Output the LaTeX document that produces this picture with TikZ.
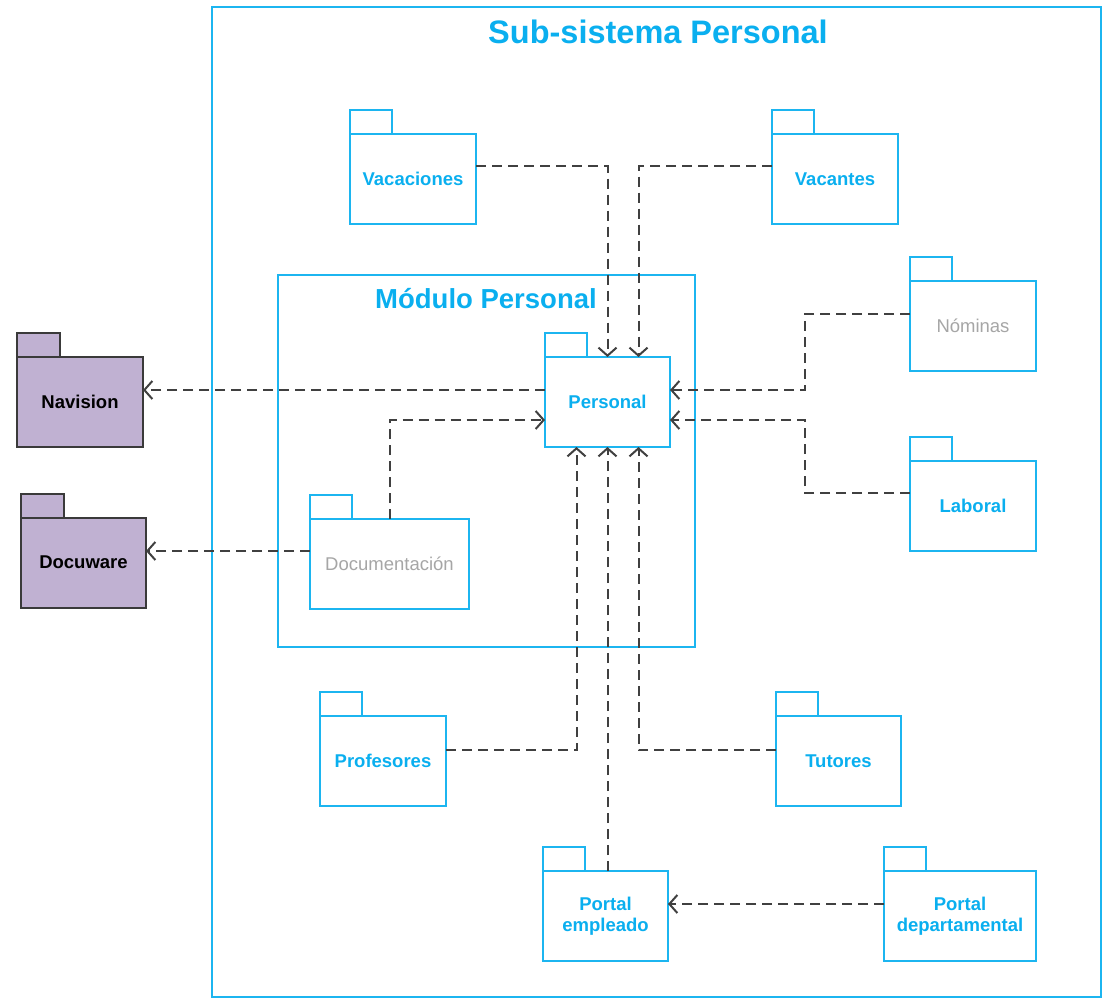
\documentclass[tikz,border=0pt]{standalone}
\usepackage{fontspec}
\setmainfont{Liberation Sans}
\usetikzlibrary{arrows.meta, positioning}

\definecolor{pkgblue}{HTML}{1CB5F0}
\definecolor{pkgtext}{HTML}{0AAFEF}
\definecolor{pkggray}{HTML}{A6A6A6}
\definecolor{extfill}{HTML}{C0B1D2}
\definecolor{extline}{HTML}{3A3A3A}
\definecolor{depline}{HTML}{404040}

\begin{document}
\begin{tikzpicture}[x=1pt, y=-1pt,
                    frame/.style={draw=pkgblue, line width=1.8pt, inner sep=0pt},
                    pkg/.style={draw=pkgblue,
                      line width=2pt,
                      fill=white,
                      outer sep=0pt,
                      inner sep=0pt,
                      minimum width=126pt,
                      minimum height=90pt,
                      align=center,
                      text=pkgtext,
                      font=\bfseries\fontsize{18.5}{21}\selectfont},
                    gray pkg/.style={pkg, text=pkggray, font=\fontsize{18.5}{21}\selectfont},
                    ext pkg/.style={pkg, draw=extline, fill=extfill, text=black},
                    dep/.style={draw=depline, line width=2pt,
                      dash pattern=on 10pt off 6pt,
                      -{Straight Barb[length=8pt, width=18pt]}}]

  \useasboundingbox (0,0) rectangle (1103,999);

  % frames
  \node[frame, minimum width=889pt, minimum height=990pt] (sys) at (656.5,502) {};
  \node[text=pkgtext, font=\bfseries\fontsize{32.5}{38}\selectfont] (systitle) at (658,32) {Sub-sistema Personal};
  \node[frame, minimum width=417pt, minimum height=372pt] (mod) at (486.5,461) {};
  \node[text=pkgtext, font=\bfseries\fontsize{27.5}{32}\selectfont] (modtitle) at (486,299) {Módulo Personal};

  % packages
  \node[pkg] (vac) at (413,179) {Vacaciones};
  \node[pkg] (vnt) at (835,179) {Vacantes};
  \node[gray pkg] (nom) at (973,326) {Nóminas};
  \node[pkg, minimum width=125pt] (per) at (607.5,402) {Personal};
  \node[pkg] (lab) at (973,506) {Laboral};
  \node[gray pkg, minimum width=159pt] (doc) at (389.5,564) {Documentación};
  \node[ext pkg] (nav) at (80,402) {Navision};
  \node[ext pkg, minimum width=125pt] (dcw) at (83.5,562.5) {Docuware};
  \node[pkg] (prof) at (383,761) {Profesores};
  \node[pkg, minimum width=125pt] (tut) at (838.5,761) {Tutores};
  \node[pkg, minimum width=125pt] (pem) at (605.5,916) {Portal\\empleado};
  \node[pkg, minimum width=152pt] (pdp) at (960,916) {Portal\\departamental};

  % tabs
  \foreach \n in {vac, vnt, nom, per, lab, doc, prof, tut, pem, pdp}
    \draw[draw=pkgblue, line width=2pt] (\n.north west) rectangle ++(42,-24);
  \foreach \n in {nav, dcw}
    \draw[draw=extline, fill=extfill, line width=2pt] (\n.north west) rectangle ++(43,-24);

  % dependencies
  \draw[dep] ([yshift=13pt]vac.east) -| (per.north);
  \draw[dep] ([yshift=13pt]vnt.west) -| ([xshift=31pt]per.north);
  \draw[dep] ([yshift=12pt]nom.west) -- ++(-105,0) |- ([yshift=12pt]per.east);
  \draw[dep] ([yshift=13pt]lab.west) -- ++(-105,0) |- ([yshift=-18pt]per.east);
  \draw[dep] ([yshift=12pt]per.west) -- ([yshift=12pt]nav.east);
  \draw[dep] (doc.north) |- ([yshift=-18pt]per.west);
  \draw[dep] ([yshift=13pt]doc.west) -- ([yshift=13pt]doc.west -| dcw.east);
  \draw[dep] ([yshift=11pt]prof.east) -| ([xshift=-31pt]per.south);
  \draw[dep] (pem.north -| per.south) -- (per.south);
  \draw[dep] ([yshift=11pt]tut.west) -| ([xshift=31pt]per.south);
  \draw[dep] ([yshift=12pt]pdp.west) -- ([yshift=12pt]pdp.west -| pem.east);
\end{tikzpicture}
\end{document}
